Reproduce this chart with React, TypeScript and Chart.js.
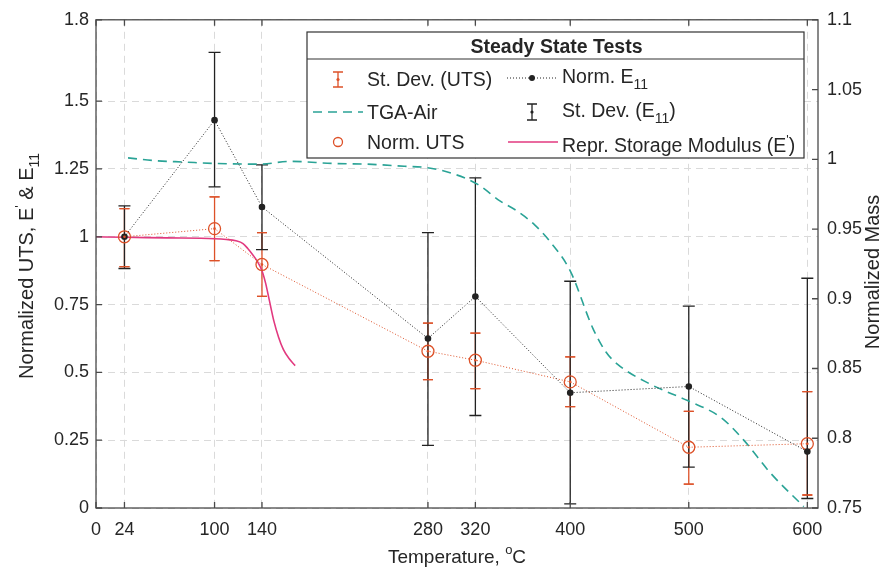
import React, { useEffect, useRef } from 'react';
import { Chart, registerables } from 'chart.js';

Chart.register(...registerables);

// ---- data ----
const temps = [24, 100, 140, 280, 320, 400, 500, 600];
const normUTS = [1.0, 1.03, 0.898, 0.578, 0.545, 0.465, 0.224, 0.237];
const utsLow = [0.89, 0.912, 0.78, 0.473, 0.44, 0.374, 0.088, 0.048];
const utsHigh = [1.104, 1.147, 1.015, 0.682, 0.645, 0.557, 0.356, 0.429];
const normE11 = [1.0, 1.43, 1.11, 0.625, 0.78, 0.425, 0.448, 0.208];
const e11Low = [0.883, 1.184, 0.953, 0.231, 0.341, 0.015, 0.151, 0.035];
const e11High = [1.114, 1.68, 1.265, 1.015, 1.217, 0.836, 0.744, 0.847];

const smTemps = [0, 24, 60, 100, 110, 118, 124, 128, 132, 136, 140, 143, 146, 150, 154, 158, 163, 168];
const smVals = [1.0, 0.998, 0.996, 0.993, 0.99, 0.985, 0.975, 0.957, 0.935, 0.91, 0.875, 0.83, 0.77, 0.69, 0.63, 0.585, 0.55, 0.525];

const tgaTemps = [27, 50, 75, 100, 138, 164, 200, 229, 260, 279, 300, 322, 341, 355, 370, 383, 400, 419, 430, 440, 467, 499, 527, 546, 569, 597];
const tgaVals = [1.001, 0.999, 0.998, 0.997, 0.9965, 0.9985, 0.997, 0.9965, 0.995, 0.994, 0.99, 0.982, 0.97, 0.963, 0.953, 0.941, 0.92, 0.879, 0.862, 0.853, 0.839, 0.827, 0.815, 0.799, 0.775, 0.751];

const xTicks = [0, 24, 100, 140, 280, 320, 400, 500, 600];
const yTicks = [0, 0.25, 0.5, 0.75, 1, 1.25, 1.5, 1.8];
const y2Ticks = [0.75, 0.8, 0.85, 0.9, 0.95, 1, 1.05, 1.1];

// ---- styles ----
const FONT = "'Liberation Sans', Arial, Helvetica, sans-serif";
const TEXT = '#262626';
const AXIS = '#4a4a4a';
const RED = '#dd5128';
const BLACK = '#222222';
const TEAL = '#2aa396';
const PINK = '#e2397f';
const GRID = '#dadada';
const LF = 19.5;

type Part = { t: string; size: number; dy: number; bold?: boolean };

function partsWidth(ctx: CanvasRenderingContext2D, parts: Part[]) {
  let w = 0;
  for (const p of parts) {
    ctx.font = `${p.bold ? 'bold ' : ''}${p.size}px ${FONT}`;
    w += ctx.measureText(p.t).width;
  }
  return w;
}

function drawRich(ctx: CanvasRenderingContext2D, x: number, y: number, parts: Part[]) {
  let cx = x;
  ctx.textAlign = 'left';
  ctx.textBaseline = 'alphabetic';
  for (const p of parts) {
    ctx.font = `${p.bold ? 'bold ' : ''}${p.size}px ${FONT}`;
    ctx.fillText(p.t, cx, y + p.dy);
    cx += ctx.measureText(p.t).width;
  }
}

function errIcon(ctx: CanvasRenderingContext2D, x: number, y1: number, y2: number, color: string, hw: number) {
  ctx.strokeStyle = color;
  ctx.lineWidth = 1.3;
  ctx.beginPath();
  ctx.moveTo(x, y1);
  ctx.lineTo(x, y2);
  ctx.moveTo(x - hw, y1);
  ctx.lineTo(x + hw, y1);
  ctx.moveTo(x - hw, y2);
  ctx.lineTo(x + hw, y2);
  ctx.stroke();
  ctx.fillStyle = color;
  ctx.beginPath();
  ctx.arc(x, (y1 + y2) / 2, 1.6, 0, Math.PI * 2);
  ctx.fill();
}

const errorBarPlugin = {
  id: 'errorBars',
  beforeDatasetsDraw(chart: any) {
    const ctx: CanvasRenderingContext2D = chart.ctx;
    const xs = chart.scales.x;
    const ys = chart.scales.y;
    const bar = (lo: number[], hi: number[], color: string, hw: number, capsOnly: boolean) => {
      ctx.save();
      ctx.strokeStyle = color;
      ctx.lineWidth = 1.3;
      ctx.beginPath();
      temps.forEach((t, i) => {
        const x = xs.getPixelForValue(t);
        const yl = ys.getPixelForValue(lo[i]);
        const yh = ys.getPixelForValue(hi[i]);
        if (!capsOnly) {
          ctx.moveTo(x, yl);
          ctx.lineTo(x, yh);
        }
        ctx.moveTo(x - hw, yl);
        ctx.lineTo(x + hw, yl);
        ctx.moveTo(x - hw, yh);
        ctx.lineTo(x + hw, yh);
      });
      ctx.stroke();
      ctx.restore();
    };
    bar(utsLow, utsHigh, RED, 5, false);
    bar(e11Low, e11High, BLACK, 6, false);
    bar(utsLow, utsHigh, RED, 5, true);
  },
  afterDatasetsDraw(chart: any) {
    const ctx: CanvasRenderingContext2D = chart.ctx;
    const xs = chart.scales.x;
    const ys = chart.scales.y;
    ctx.save();
    ctx.fillStyle = RED;
    temps.forEach((t, i) => {
      ctx.beginPath();
      ctx.arc(xs.getPixelForValue(t), ys.getPixelForValue(normUTS[i]), 1.3, 0, Math.PI * 2);
      ctx.fill();
    });
    ctx.restore();
  },
};

const frameAndLegendPlugin = {
  id: 'frameLegend',
  afterDraw(chart: any) {
    const ctx: CanvasRenderingContext2D = chart.ctx;
    const a = chart.chartArea;
    const xs = chart.scales.x;
    const ys = chart.scales.y;
    const y2s = chart.scales.y2;
    ctx.save();
    // box
    ctx.strokeStyle = AXIS;
    ctx.lineWidth = 1.3;
    ctx.strokeRect(a.left, a.top, a.right - a.left, a.bottom - a.top);
    // inward ticks
    ctx.beginPath();
    const tl = 6;
    xTicks.forEach((v) => {
      const x = xs.getPixelForValue(v);
      ctx.moveTo(x, a.bottom);
      ctx.lineTo(x, a.bottom - tl);
      ctx.moveTo(x, a.top);
      ctx.lineTo(x, a.top + tl);
    });
    yTicks.forEach((v) => {
      const y = ys.getPixelForValue(v);
      ctx.moveTo(a.left, y);
      ctx.lineTo(a.left + tl, y);
    });
    y2Ticks.forEach((v) => {
      const y = y2s.getPixelForValue(v);
      ctx.moveTo(a.right, y);
      ctx.lineTo(a.right - tl, y);
    });
    ctx.stroke();

    // axis titles
    ctx.fillStyle = TEXT;
    const xt: Part[] = [
      { t: 'Temperature, ', size: 19, dy: 0 },
      { t: 'o', size: 13, dy: -9 },
      { t: 'C', size: 19, dy: 0 },
    ];
    const xw = partsWidth(ctx, xt);
    drawRich(ctx, (a.left + a.right) / 2 - xw / 2, 563, xt);

    const yt: Part[] = [
      { t: 'Normalized UTS, E', size: 20, dy: 0 },
      { t: "'", size: 13, dy: -9 },
      { t: ' & E', size: 20, dy: 0 },
      { t: '11', size: 14, dy: 6 },
    ];
    const yw = partsWidth(ctx, yt);
    ctx.save();
    ctx.translate(33, (a.top + a.bottom) / 2 + 2);
    ctx.rotate(-Math.PI / 2);
    drawRich(ctx, -yw / 2, 0, yt);
    ctx.restore();

    const rt: Part[] = [{ t: 'Normalized Mass', size: 20, dy: 0 }];
    const rw = partsWidth(ctx, rt);
    ctx.save();
    ctx.translate(879, (a.top + a.bottom) / 2 + 8);
    ctx.rotate(-Math.PI / 2);
    drawRich(ctx, -rw / 2, 0, rt);
    ctx.restore();

    // legend
    const L = 307, T = 32, R = 804, B = 158;
    ctx.fillStyle = '#ffffff';
    ctx.fillRect(L, T, R - L, B - T);
    ctx.strokeStyle = '#333333';
    ctx.lineWidth = 1.2;
    ctx.strokeRect(L, T, R - L, B - T);
    ctx.beginPath();
    ctx.moveTo(L, 59);
    ctx.lineTo(R, 59);
    ctx.stroke();

    ctx.fillStyle = TEXT;
    const title: Part[] = [{ t: 'Steady State Tests', size: LF, dy: 0, bold: true }];
    const tw = partsWidth(ctx, title);
    drawRich(ctx, (L + R) / 2 - tw / 2 + 1, 53, title);

    // col 1 row 1: St. Dev. (UTS)
    errIcon(ctx, 338, 72, 87, RED, 5);
    ctx.fillStyle = TEXT;
    drawRich(ctx, 367, 86, [{ t: 'St. Dev. (UTS)', size: LF, dy: 0 }]);
    // col 1 row 2: TGA-Air
    ctx.strokeStyle = TEAL;
    ctx.lineWidth = 1.6;
    ctx.setLineDash([9, 6]);
    ctx.beginPath();
    ctx.moveTo(313, 112);
    ctx.lineTo(363, 112);
    ctx.stroke();
    ctx.setLineDash([]);
    ctx.fillStyle = TEXT;
    drawRich(ctx, 367, 119, [{ t: 'TGA-Air', size: LF, dy: 0 }]);
    // col 1 row 3: Norm. UTS
    ctx.strokeStyle = RED;
    ctx.lineWidth = 1.3;
    ctx.beginPath();
    ctx.arc(338, 142, 4.5, 0, Math.PI * 2);
    ctx.stroke();
    ctx.fillStyle = TEXT;
    drawRich(ctx, 367, 149, [{ t: 'Norm. UTS', size: LF, dy: 0 }]);

    // col 2 row 1: Norm. E11
    ctx.strokeStyle = BLACK;
    ctx.lineWidth = 1;
    ctx.setLineDash([1, 2]);
    ctx.beginPath();
    ctx.moveTo(507, 78);
    ctx.lineTo(557, 78);
    ctx.stroke();
    ctx.setLineDash([]);
    ctx.fillStyle = BLACK;
    ctx.beginPath();
    ctx.arc(532, 78, 3, 0, Math.PI * 2);
    ctx.fill();
    ctx.fillStyle = TEXT;
    drawRich(ctx, 562, 83, [
      { t: 'Norm. E', size: LF, dy: 0 },
      { t: '11', size: 14, dy: 6 },
    ]);
    // col 2 row 2: St. Dev. (E11)
    errIcon(ctx, 532, 104, 120, BLACK, 5);
    ctx.fillStyle = TEXT;
    drawRich(ctx, 562, 117, [
      { t: 'St. Dev. (E', size: LF, dy: 0 },
      { t: '11', size: 14, dy: 6 },
      { t: ')', size: LF, dy: 0 },
    ]);
    // col 2 row 3: Repr. Storage Modulus (E')
    ctx.strokeStyle = PINK;
    ctx.lineWidth = 1.5;
    ctx.beginPath();
    ctx.moveTo(508, 142);
    ctx.lineTo(558, 142);
    ctx.stroke();
    ctx.fillStyle = TEXT;
    drawRich(ctx, 562, 152, [
      { t: 'Repr. Storage Modulus (E', size: LF, dy: 0 },
      { t: "'", size: 13, dy: -8 },
      { t: ')', size: LF, dy: 0 },
    ]);
    ctx.restore();
  },
};

const fmt = (v: number) => String(Number(v.toFixed(2)));

export default function App() {
  const ref = useRef<HTMLCanvasElement | null>(null);

  useEffect(() => {
    document.body.style.margin = '0';
    const canvas = ref.current;
    if (!canvas) return;
    const tickFont = { family: FONT, size: 18 };
    const chart = new Chart(canvas, {
      type: 'line',
      data: {
        datasets: [
          {
            label: 'Norm. E11',
            data: temps.map((t, i) => ({ x: t, y: normE11[i] })),
            yAxisID: 'y',
            borderColor: BLACK,
            borderWidth: 1,
            borderDash: [1, 2],
            pointRadius: 3.3,
            pointBackgroundColor: BLACK,
            pointBorderColor: BLACK,
            pointBorderWidth: 0,
            fill: false,
          },
          {
            label: 'Norm. UTS',
            data: temps.map((t, i) => ({ x: t, y: normUTS[i] })),
            yAxisID: 'y',
            borderColor: RED,
            borderWidth: 1,
            borderDash: [1, 2],
            pointRadius: 6,
            pointBackgroundColor: 'rgba(0,0,0,0)',
            pointBorderColor: RED,
            pointBorderWidth: 1.3,
            fill: false,
          },
          {
            label: 'Repr. Storage Modulus',
            data: smTemps.map((t, i) => ({ x: t, y: smVals[i] })),
            yAxisID: 'y',
            borderColor: PINK,
            borderWidth: 1.6,
            pointRadius: 0,
            cubicInterpolationMode: 'monotone',
            fill: false,
          },
          {
            label: 'TGA-Air',
            data: tgaTemps.map((t, i) => ({ x: t, y: tgaVals[i] })),
            yAxisID: 'y2',
            borderColor: TEAL,
            borderWidth: 1.6,
            borderDash: [9, 6],
            pointRadius: 0,
            cubicInterpolationMode: 'monotone',
            fill: false,
          },
        ],
      },
      options: {
        responsive: false,
        animation: false,
        devicePixelRatio: 1,
        layout: { padding: { top: 17, left: 0, right: 0, bottom: 0 } },
        plugins: { legend: { display: false }, tooltip: { enabled: false } },
        scales: {
          x: {
            type: 'linear',
            min: 0,
            max: 609,
            afterBuildTicks: (s: any) => {
              s.ticks = xTicks.map((v) => ({ value: v }));
            },
            afterFit: (s: any) => {
              s.height = 61;
            },
            ticks: {
              font: tickFont,
              color: TEXT,
              padding: 11,
              autoSkip: false,
              maxRotation: 0,
              callback: (v: any) => fmt(Number(v)),
            },
            grid: { color: GRID, lineWidth: 1, drawTicks: false },
            border: { display: false, dash: [7, 5] },
          },
          y: {
            type: 'linear',
            position: 'left',
            min: 0,
            max: 1.8,
            afterBuildTicks: (s: any) => {
              s.ticks = yTicks.map((v) => ({ value: v }));
            },
            afterFit: (s: any) => {
              s.width = 96;
            },
            ticks: {
              font: tickFont,
              color: TEXT,
              padding: 7,
              autoSkip: false,
              callback: (v: any) => fmt(Number(v)),
            },
            grid: { color: GRID, lineWidth: 1, drawTicks: false },
            border: { display: false, dash: [7, 5] },
          },
          y2: {
            type: 'linear',
            position: 'right',
            min: 0.75,
            max: 1.1,
            afterBuildTicks: (s: any) => {
              s.ticks = y2Ticks.map((v) => ({ value: v }));
            },
            afterFit: (s: any) => {
              s.width = 75;
            },
            ticks: {
              font: tickFont,
              color: TEXT,
              padding: 9,
              autoSkip: false,
              callback: (v: any) => fmt(Number(v)),
            },
            grid: { display: false, drawTicks: false },
            border: { display: false },
          },
        },
      },
      plugins: [errorBarPlugin, frameAndLegendPlugin],
    } as any);
    return () => chart.destroy();
  }, []);

  return (
    <div style={{ width: 893, height: 569, background: '#ffffff' }}>
      <canvas ref={ref} width={893} height={569} style={{ width: 893, height: 569, display: 'block' }} />
    </div>
  );
}
